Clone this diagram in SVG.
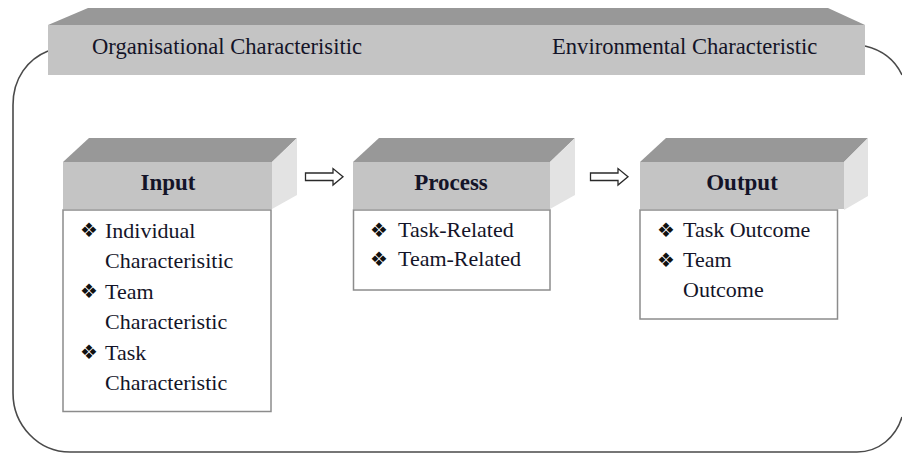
<svg xmlns="http://www.w3.org/2000/svg" width="902" height="454" viewBox="0 0 902 454">
  <style>
    .top { fill: #989898; }
    .front { fill: #c4c4c4; }
    .side { fill: #e3e3e3; }
    .list { fill: #ffffff; stroke: #8c8c8c; stroke-width: 1.5; }
    .frame { fill: none; stroke: #4a4a4a; stroke-width: 1.6; }
    .arrow { fill: #ffffff; stroke: #2a2a2a; stroke-width: 1.3; stroke-linejoin: miter; }
    text { font-family: "Liberation Serif", "Times New Roman", serif; fill: #141428; }
    .band { font-size: 22.6px; }
    .head { font-size: 23px; font-weight: bold; text-anchor: middle; }
    .item { font-size: 22px; }
    .bul { font-family: "DejaVu Sans", "Noto Sans", sans-serif; font-size: 20px; fill: #111; }
  </style>

  <rect width="902" height="454" fill="#ffffff"/>

  <!-- rounded enclosure hanging from the banner; its right side runs past the page edge -->
  <g id="enclosure">
    <path class="frame" d="M48,51 C28,59 13,78 13,105 V393 C13,425 38,452 70,452 H857 C879,452 896,437 902,417"/>
    <path class="frame" d="M865,46 C882,50 895,60 902,75"/>
  </g>

  <!-- banner: organisational / environmental context -->
  <g id="context">
    <polygon class="top" points="88,8 828,8 865,25 48,25"/>
    <rect class="front" x="48" y="25" width="817" height="50"/>
    <text class="band" x="92" y="54">Organisational Characterisitic</text>
    <text class="band" x="552" y="54">Environmental Characteristic</text>
  </g>

  <!-- Input block -->
  <g id="input">
    <polygon class="top" points="89,138 297,138 272,162 63,162"/>
    <polygon class="side" points="272,162 297,138 297,195 272,209"/>
    <rect class="front" x="63" y="162" width="209" height="47"/>
    <text class="head" x="168" y="189.5">Input</text>
    <rect class="list" x="63" y="210" width="208" height="201.5"/>
    <text class="bul" x="80" y="237">❖</text>
    <text class="item" x="105" y="237.5">Individual</text>
    <text class="item" x="105" y="268">Characterisitic</text>
    <text class="bul" x="80" y="298">❖</text>
    <text class="item" x="105" y="298.5">Team</text>
    <text class="item" x="105" y="329">Characteristic</text>
    <text class="bul" x="80" y="359">❖</text>
    <text class="item" x="105" y="359.5">Task</text>
    <text class="item" x="105" y="390">Characteristic</text>
  </g>

  <!-- Process block -->
  <g id="process">
    <polygon class="top" points="379,138 575,138 550,162 353,162"/>
    <polygon class="side" points="550,162 575,138 575,195 550,209"/>
    <rect class="front" x="353" y="162" width="197" height="47"/>
    <text class="head" x="451" y="189.5">Process</text>
    <rect class="list" x="353.5" y="210" width="196.5" height="80"/>
    <text class="bul" x="370" y="236.5">❖</text>
    <text class="item" x="398" y="237">Task-Related</text>
    <text class="bul" x="370" y="265.5">❖</text>
    <text class="item" x="398" y="266">Team-Related</text>
  </g>

  <!-- Output block -->
  <g id="output">
    <polygon class="top" points="666,138 868,138 844,162 640,162"/>
    <polygon class="side" points="844,162 868,138 868,196 844,210"/>
    <rect class="front" x="640" y="162" width="204" height="47"/>
    <text class="head" x="742" y="189.5">Output</text>
    <rect class="list" x="640" y="210" width="197.5" height="109"/>
    <text class="bul" x="657" y="236.5">❖</text>
    <text class="item" x="683" y="237">Task Outcome</text>
    <text class="bul" x="657" y="266.5">❖</text>
    <text class="item" x="683" y="267">Team</text>
    <text class="item" x="683" y="297">Outcome</text>
  </g>

  <!-- flow arrows between the blocks -->
  <g id="connectors">
    <path class="arrow" d="M305.5,173 H333 V168.5 L343,176.7 L333,185 V180.5 H305.5 Z"/>
    <path class="arrow" d="M590.5,173 H618 V168.5 L628,176.7 L618,185 V180.5 H590.5 Z"/>
  </g>
</svg>
